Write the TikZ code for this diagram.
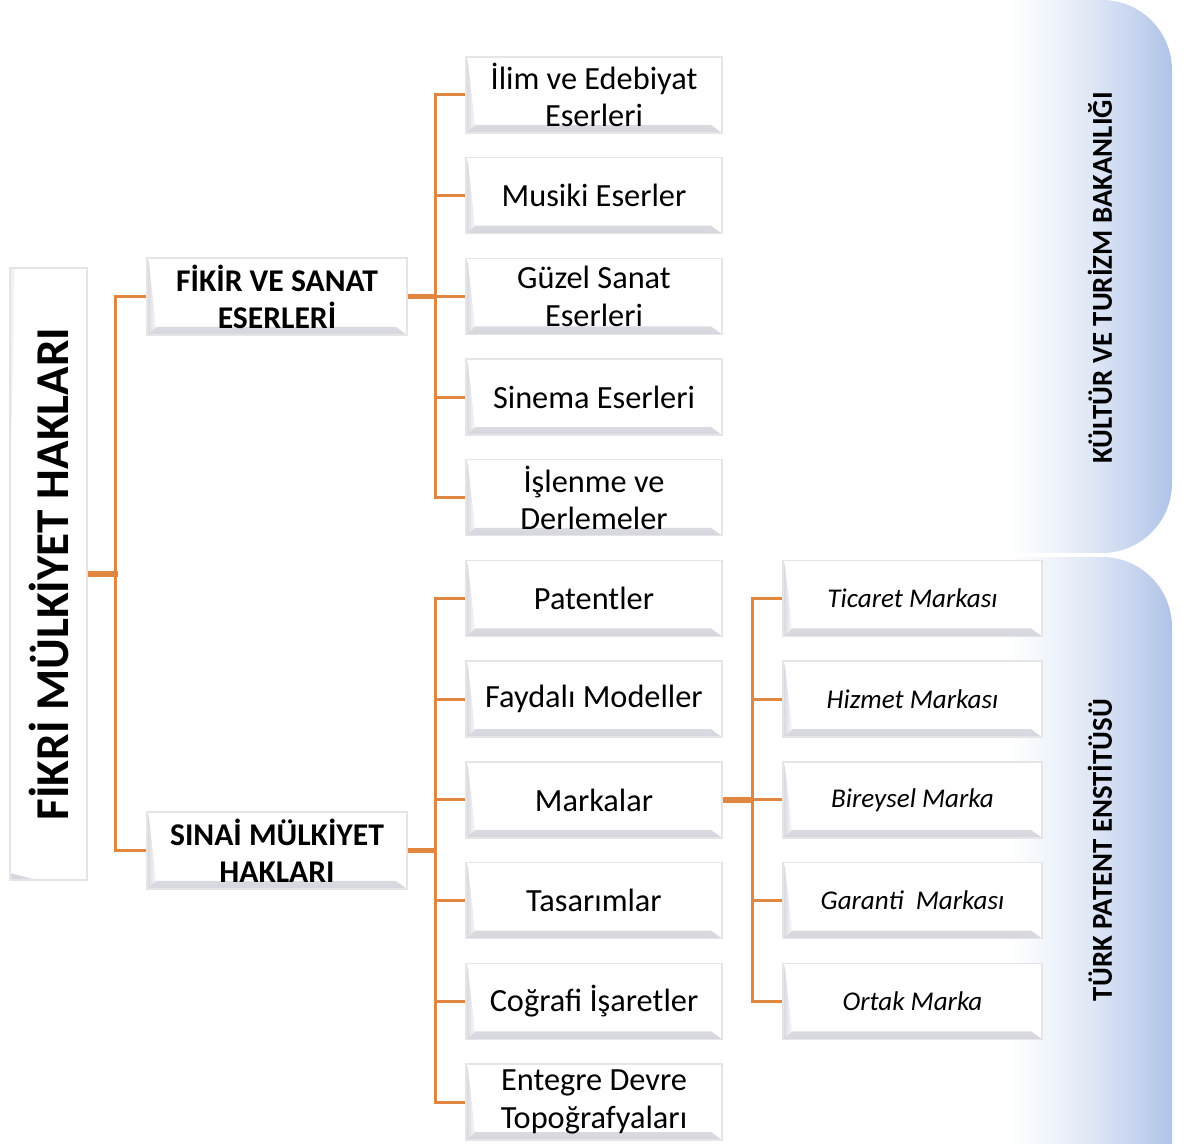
\documentclass[tikz,border=0pt]{standalone}
\usepackage{fontspec}
\setmainfont{Carlito}
\usetikzlibrary{positioning}

\definecolor{linkorange}{RGB}{224,134,64}
\definecolor{panelblue}{RGB}{176,196,232}
\definecolor{bevelgray}{RGB}{214,214,222}

\tikzset{
	bevel/.style={draw=gray!20, fill=white, inner sep=1pt, align=center,
		path picture={
			\shade[top color=gray!4, bottom color=bevelgray]
				(path picture bounding box.south west) -- ([shift={(0.09,0.08)}]path picture bounding box.south west)
				-- ([shift={(-0.11,0.08)}]path picture bounding box.south east) -- (path picture bounding box.south east) -- cycle;
			\shade[left color=bevelgray, right color=gray!4]
				(path picture bounding box.north west) -- ([shift={(0.02,-0.05)}]path picture bounding box.north west)
				-- ([shift={(0.09,0.08)}]path picture bounding box.south west) -- (path picture bounding box.south west) -- cycle;
		}},
	rootbox/.style={bevel, rotate=90, minimum width=6.12cm, minimum height=0.77cm, font=\bfseries\fontsize{13.4}{15}\selectfont},
	groupbox/.style={bevel, minimum width=2.6cm, minimum height=0.77cm, font=\bfseries\fontsize{9}{10.5}\selectfont},
	workbox/.style={bevel, minimum width=2.56cm, minimum height=0.76cm, font=\fontsize{9.2}{10.6}\selectfont},
	markbox/.style={bevel, minimum width=2.59cm, minimum height=0.76cm, font=\itshape\fontsize{7.7}{9}\selectfont},
	link/.style={linkorange, line width=0.03cm},
	trunk/.style={linkorange, line width=0.055cm},
	paneltext/.style={rotate=90, font=\bfseries\fontsize{8.2}{9.5}\selectfont},
}

\begin{document}
\begin{tikzpicture}

\useasboundingbox (0, 0) rectangle (11.86, -11.44);

% institutions on the right
\shade[left color=white, right color=panelblue, middle color=white!60!panelblue]
	(10.1, 0) -- (11.02, 0) arc[start angle=90, end angle=0, radius=0.7] -- (11.72, -4.83)
	arc[start angle=0, end angle=-90, radius=0.7] -- (10.1, -5.53) -- cycle;
\shade[left color=white, right color=panelblue, middle color=white!60!panelblue]
	(10.1, -5.57) -- (11.02, -5.57) arc[start angle=90, end angle=0, radius=0.7] -- (11.72, -11.44)
	-- (10.1, -11.44) -- cycle;
\node[paneltext] (ktb) at (11.0, -2.78) {KÜLTÜR VE TURİZM BAKANLIĞI};
\node[paneltext] (tpe) at (11.0, -8.5) {TÜRK PATENT ENSTİTÜSÜ};

% tree
\node[rootbox] (root) at (0.485, -5.74) {FİKRİ MÜLKİYET HAKLARI};
\node[groupbox] (fikir) at (2.77, -2.965) {FİKİR VE SANAT\\ESERLERİ};
\node[groupbox] (sinai) at (2.77, -8.505) {SINAİ MÜLKİYET\\HAKLARI};

\foreach \i/\text in {
	0/{İlim ve Edebiyat\\Eserleri},
	1/Musiki Eserler,
	2/{Güzel Sanat\\Eserleri},
	3/Sinema Eserleri,
	4/{İşlenme ve\\Derlemeler},
	5/Patentler,
	6/Faydalı Modeller,
	7/Markalar,
	8/Tasarımlar,
	9/Coğrafi İşaretler,
	10/{Entegre Devre\\Topoğrafyaları}}
\node[workbox] (w\i) at (5.94, {-0.95-1.007*\i}) {\text};

\foreach \i/\text in {
	5/Ticaret Markası,
	6/Hizmet Markası,
	7/Bireysel Marka,
	8/Garanti\ \ Markası,
	9/Ortak Marka}
\node[markbox] (m\i) at (9.125, {-0.95-1.007*\i}) {\text};

% connectors
\foreach \g in {fikir, sinai}
\draw[link] (root.south) -- ++(0.28, 0) |- (\g.west);
\draw[trunk] (root.south) -- ++(0.3, 0);

\foreach \i in {0,...,4}
\draw[link] (fikir.east) -- ++(0.28, 0) |- (w\i.west);
\draw[trunk] (fikir.east) -- ++(0.28, 0);

\foreach \i in {5,...,10}
\draw[link] (sinai.east) -- ++(0.28, 0) |- (w\i.west);
\draw[trunk] (sinai.east) -- ++(0.28, 0);

\foreach \i in {5,...,9}
\draw[link] (w7.east) -- ++(0.3, 0) |- (m\i.west);
\draw[trunk] (w7.east) -- ++(0.3, 0);

\end{tikzpicture}
\end{document}
